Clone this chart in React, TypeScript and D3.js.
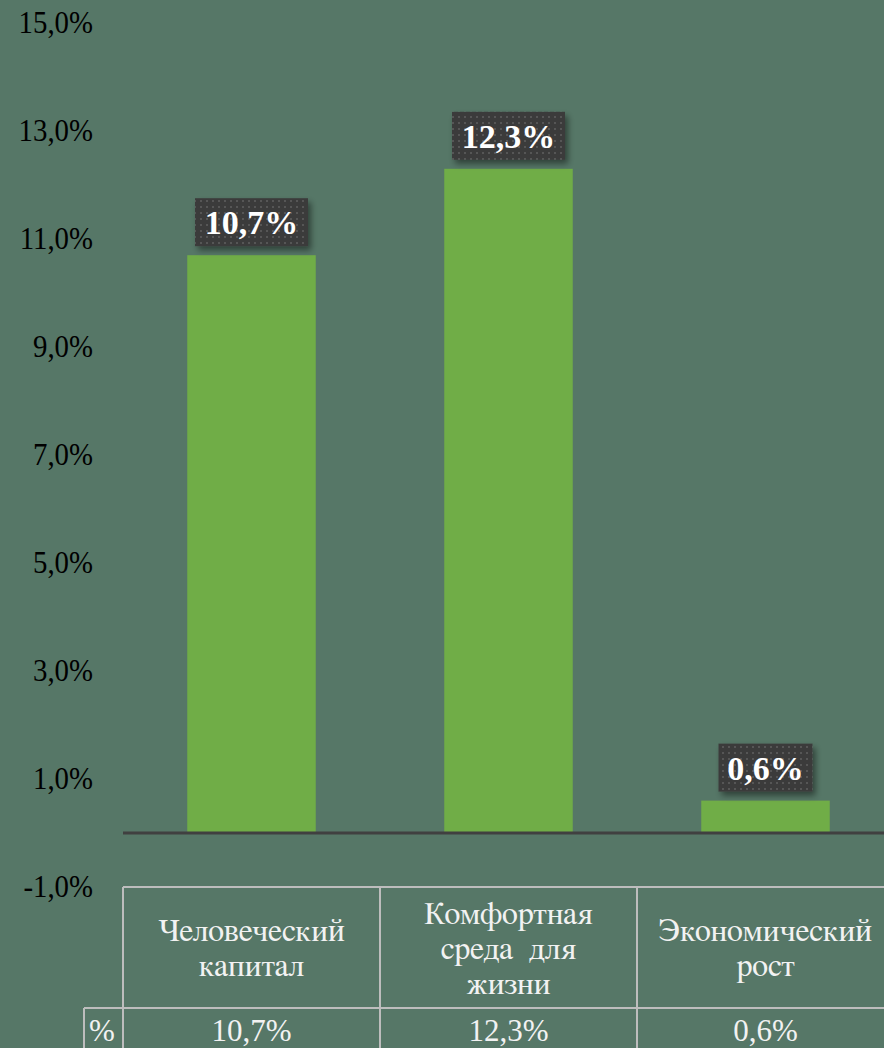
import * as React from "react";
import * as d3 from "d3";

const categories = ["Человеческий капитал", "Комфортная среда для жизни", "Экономический рост"];
const headerLines = [["Человеческий", "капитал"], ["Комфортная", "среда  для", "жизни"], ["Экономический", "рост"]];
const values = [10.7, 12.3, 0.6];
const yTicks = [-1, 1, 3, 5, 7, 9, 11, 13, 15];

const FONT = "Liberation Serif";
// Cyrillic from Liberation Serif comes out sans-looking here, FreeSerif is a closer Times
const FONT_CYR = "FreeSerif";
const fmt = (v: number) => v.toFixed(1).replace(".", ",") + "%";

const App = () => {
  const width = 884;
  const height = 1048;
  const left = 123;
  const right = 894; // last column runs slightly past the edge

  const x = d3.scaleBand().domain(categories).range([left, right]).padding(0);
  const y = d3.scaleLinear().domain([-1, 15]).range([887, 23]);
  const barW = x.bandwidth() * 0.5;

  const tableTop = y(-1);
  const rowY = 1008;

  return (
    <div style={{ position: "absolute", left: 0, top: 0 }}>
      <svg width={width} height={height} style={{ display: "block" }}>
        <defs>
          <pattern id="dots" width="6" height="6" patternUnits="userSpaceOnUse">
            <rect width="6" height="6" fill="#3b3b3b" />
            <rect x="2" y="2" width="2" height="2" fill="#565656" />
          </pattern>
          <filter id="shadow" x="-20%" y="-20%" width="150%" height="160%">
            <feDropShadow dx="3" dy="4" stdDeviation="3" floodColor="#000" floodOpacity="0.45" />
          </filter>
        </defs>
        <rect width={width} height={height} fill="#567767" />

        {yTicks.map(t => (
          <text key={t} transform={`translate(93,${y(t) + 10}) scale(0.9,1)`} textAnchor="end"
            fontFamily={FONT} fontSize={32} fill="#000">
            {fmt(t)}
          </text>
        ))}

        {categories.map((c, i) => {
          const cx = x(c)! + x.bandwidth() / 2;
          return (
            <rect key={c} x={cx - barW / 2} y={y(values[i])} width={barW} height={y(0) - y(values[i])} fill="#70ad47" />
          );
        })}

        <line x1={left} x2={width} y1={y(0)} y2={y(0)} stroke="#404040" strokeWidth={3} />

        {categories.map((c, i) => {
          const cx = x(c)! + x.bandwidth() / 2;
          const label = fmt(values[i]);
          const bw = label.length * 19 + 18;
          const top = y(values[i]) - 57;
          return (
            <g key={c}>
              <rect x={cx - bw / 2} y={top} width={bw} height={48} fill="url(#dots)" filter="url(#shadow)" />
              <text x={cx} y={top + 36} textAnchor="middle"
                fontFamily={FONT} fontWeight="bold" fontSize={34} fill="#fff">
                {label}
              </text>
            </g>
          );
        })}

        <g stroke="#bdbdbd" strokeWidth={2} fill="none">
          <line x1={left} x2={width} y1={tableTop} y2={tableTop} />
          <line x1={84} x2={width} y1={rowY} y2={rowY} />
          <line x1={84} x2={84} y1={rowY} y2={height} />
          {categories.map(c => (
            <line key={c} x1={x(c)!} x2={x(c)!} y1={tableTop} y2={height} />
          ))}
        </g>

        {categories.map((c, i) => {
          const cx = x(c)! + x.bandwidth() / 2;
          const lines = headerLines[i];
          const mid = (tableTop + rowY) / 2;
          const lh = 35;
          return (
            <g key={c}>
              {lines.map((l, j) => (
                <text key={j} x={cx} y={mid + (j - (lines.length - 1) / 2) * lh + 11} textAnchor="middle"
                  fontFamily={FONT_CYR} fontSize={32} fill="#f2f2f2" style={{ whiteSpace: "pre" }}>
                  {l}
                </text>
              ))}
              <text x={cx} y={1041} textAnchor="middle" fontFamily={FONT} fontSize={31} fill="#f2f2f2">{fmt(values[i])}</text>
            </g>
          );
        })}
        <text x={102} y={1041} textAnchor="middle" fontFamily={FONT} fontSize={31} fill="#f2f2f2">%</text>
      </svg>
    </div>
  );
};

export default App;
